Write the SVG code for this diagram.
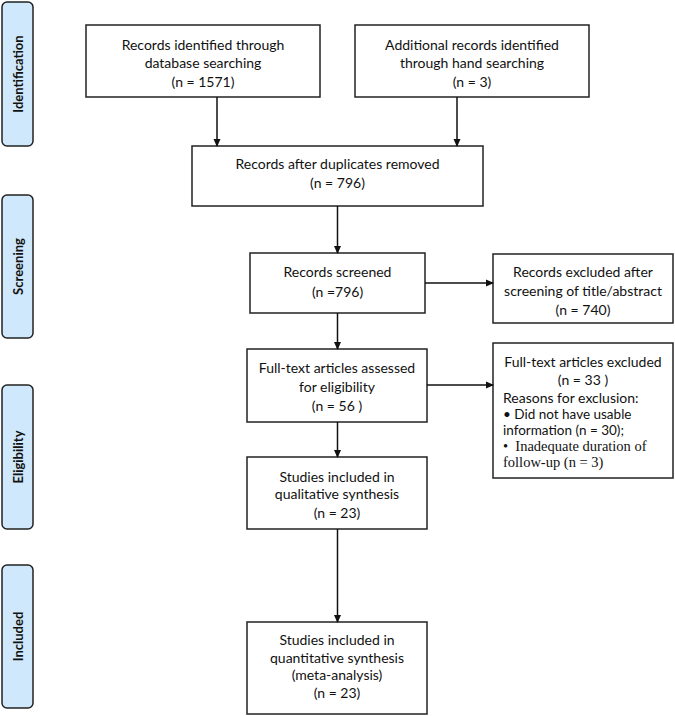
<svg xmlns="http://www.w3.org/2000/svg" width="675" height="716" viewBox="0 0 675 716">
<defs>
<marker id="ah" markerWidth="8" markerHeight="8" refX="7" refY="4" orient="auto" markerUnits="userSpaceOnUse">
<path d="M0,0.5 L8,4 L0,7.5 Z" fill="#111"/>
</marker>
<style>
.box{fill:#fff;stroke:#222;stroke-width:1.5}
.side{fill:#cfe8fb;stroke:#222;stroke-width:1.5}
.t{font-family:Lato,"Liberation Sans",sans-serif;font-size:14px;fill:#111;text-anchor:middle}
.l{font-family:Lato,"Liberation Sans",sans-serif;font-size:14px;fill:#111}
.s{font-family:Lato,"Liberation Sans",sans-serif;font-size:13.5px;fill:#111}
.ser{font-family:"Liberation Serif",serif;font-size:14.5px;fill:#111}
.st{font-family:Lato,"Liberation Sans",sans-serif;font-size:13px;font-weight:bold;fill:#111;text-anchor:middle}
.c{stroke:#111;stroke-width:1.5;fill:none}
</style>
</defs>
<rect width="675" height="716" fill="#fff"/>
<g id="side-identification"><rect class="side" x="2" y="2" width="31" height="144" rx="5"/><text class="st" transform="translate(22.5,74) rotate(-90)">Identification</text></g>
<g id="side-screening"><rect class="side" x="2" y="195" width="31" height="143" rx="5"/><text class="st" transform="translate(22.5,266.5) rotate(-90)">Screening</text></g>
<g id="side-eligibility"><rect class="side" x="2" y="385" width="31" height="144" rx="5"/><text class="st" transform="translate(22.5,457) rotate(-90)">Eligibility</text></g>
<g id="side-included"><rect class="side" x="2" y="565" width="31" height="143" rx="5"/><text class="st" transform="translate(22.5,636.5) rotate(-90)">Included</text></g>

<g id="n-database"><rect class="box" x="86" y="25" width="234" height="72"/>
<text class="t" x="203" y="50">Records identified through</text>
<text class="t" x="203" y="68">database searching</text>
<text class="t" x="203" y="87">(n = 1571)</text></g>
<g id="n-hand"><rect class="box" x="355" y="25" width="234" height="72"/>
<text class="t" x="472" y="50">Additional records identified</text>
<text class="t" x="472" y="68">through hand searching</text>
<text class="t" x="472" y="87">(n = 3)</text></g>
<g id="n-duplicates"><rect class="box" x="192" y="146" width="291" height="60"/>
<text class="t" x="337.5" y="169">Records after duplicates removed</text>
<text class="t" x="337.5" y="188">(n = 796)</text></g>
<g id="n-screened"><rect class="box" x="250" y="253" width="175" height="60"/>
<text class="t" x="337.5" y="277">Records screened</text>
<text class="t" x="337.5" y="297">(n =796)</text></g>
<g id="n-excluded1"><rect class="box" x="493" y="254" width="180" height="69"/>
<text class="t" x="583" y="277">Records excluded after</text>
<text class="t" x="583" y="296">screening of title/abstract</text>
<text class="t" x="583" y="315">(n = 740)</text></g>
<g id="n-fulltext"><rect class="box" x="247" y="349" width="180" height="73"/>
<text class="t" x="337" y="373">Full-text articles assessed</text>
<text class="t" x="337" y="392">for eligibility</text>
<text class="t" x="337" y="411">(n = 56 )</text></g>
<g id="n-excluded2"><rect class="box" x="493" y="343" width="180" height="135"/>
<text class="t" x="583" y="367">Full-text articles excluded</text>
<text class="t" x="583" y="385">(n = 33 )</text>
<text class="l" x="503" y="403">Reasons for exclusion:</text>
<text class="s" x="503" y="419">• Did not have usable</text>
<text class="s" x="503" y="435">information (n = 30);</text>
<text class="ser" x="503" y="451" xml:space="preserve">•  Inadequate duration of</text>
<text class="ser" x="503" y="467">follow-up (n = 3)</text></g>
<g id="n-qualitative"><rect class="box" x="247" y="457" width="180" height="72"/>
<text class="t" x="337" y="482">Studies included in</text>
<text class="t" x="337" y="499">qualitative synthesis</text>
<text class="t" x="337" y="518">(n = 23)</text></g>
<g id="n-quantitative"><rect class="box" x="247" y="622" width="180" height="92"/>
<text class="t" x="337" y="645">Studies included in</text>
<text class="t" x="337" y="663">quantitative synthesis</text>
<text class="t" x="337" y="680">(meta-analysis)</text>
<text class="t" x="337" y="698">(n = 23)</text></g>

<g id="connectors">
<line class="c" x1="217" y1="97" x2="217" y2="146" marker-end="url(#ah)"/>
<line class="c" x1="457" y1="97" x2="457" y2="146" marker-end="url(#ah)"/>
<line class="c" x1="337.5" y1="206" x2="337.5" y2="253" marker-end="url(#ah)"/>
<line class="c" x1="425" y1="283" x2="493" y2="283" marker-end="url(#ah)"/>
<line class="c" x1="337.5" y1="313" x2="337.5" y2="349" marker-end="url(#ah)"/>
<line class="c" x1="427" y1="385" x2="493" y2="385" marker-end="url(#ah)"/>
<line class="c" x1="337.5" y1="422" x2="337.5" y2="457" marker-end="url(#ah)"/>
<line class="c" x1="337.5" y1="529" x2="337.5" y2="622" marker-end="url(#ah)"/>
</g>
</svg>
